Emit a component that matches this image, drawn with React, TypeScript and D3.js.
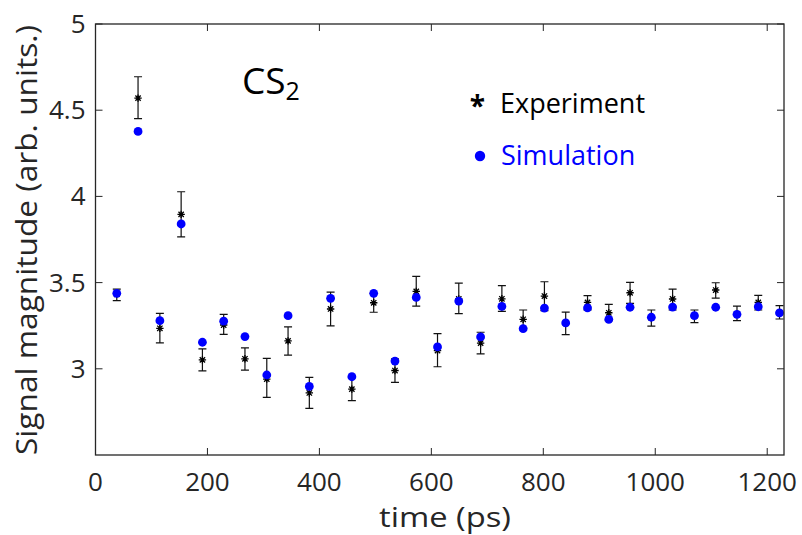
import * as d3 from 'd3'

// time delay of each measurement (ps)
const timePs = [38, 76, 115, 153, 191, 229, 267, 306, 344, 382, 420, 458, 497, 535, 573, 611,
    649, 688, 726, 764, 802, 840, 879, 917, 955, 993, 1031, 1070, 1108, 1146, 1184, 1222]

const experiment = [3.432, 4.570, 3.235, 3.896, 3.052, 3.254, 3.058, 2.940, 3.162, 2.860, 3.347,
    2.882, 3.383, 2.990, 3.449, 3.106, 3.405, 3.149, 3.406, 3.287, 3.422, 3.264, 3.385, 3.325,
    3.441, 3.295, 3.405, 3.305, 3.457, 3.318, 3.385, 3.325]

const expUpper = [3.462, 4.694, 3.322, 4.027, 3.116, 3.316, 3.121, 3.060, 3.243, 2.950, 3.445,
    2.952, 3.438, 3.058, 3.536, 3.204, 3.497, 3.212, 3.482, 3.341, 3.505, 3.329, 3.424, 3.374,
    3.501, 3.341, 3.462, 3.341, 3.499, 3.364, 3.426, 3.366]

const expLower = [3.395, 4.451, 3.150, 3.765, 2.988, 3.200, 2.992, 2.834, 3.079, 2.771, 3.249,
    2.815, 3.328, 2.921, 3.364, 3.012, 3.320, 3.087, 3.333, 3.235, 3.337, 3.198, 3.341, 3.279,
    3.380, 3.247, 3.341, 3.268, 3.410, 3.279, 3.341, 3.289]

const simulation = [3.438, 4.377, 3.279, 3.840, 3.154, 3.276, 3.187, 2.964, 3.308, 2.898, 3.409,
    2.954, 3.438, 3.045, 3.414, 3.127, 3.393, 3.185, 3.362, 3.233, 3.352, 3.266, 3.353, 3.287,
    3.357, 3.299, 3.358, 3.308, 3.357, 3.316, 3.360, 3.324]

const xTicks = [0, 200, 400, 600, 800, 1000, 1200]
const yTicks = [3, 3.5, 4, 4.5, 5]

const W = 802
const H = 535
const margin = { top: 24, right: 18, bottom: 80, left: 95.5 }
const font = '"Open Sans", "Noto Sans", sans-serif'
const axisColor = '#262626'

const App = () => {
    const x = d3.scaleLinear().domain([0, 1230]).range([margin.left, W - margin.right])
    const y = d3.scaleLinear().domain([2.5, 5]).range([H - margin.bottom, margin.top])

    const [x0, x1] = x.range()
    const [yb, yt] = y.range()
    const tickLen = 7
    const cap = 4
    const s = 3.7

    // asterisk marker (plus + cross), like matlab's '*'
    const star = (cx: number, cy: number) => {
        const d = s * 0.72
        return `M${cx - s},${cy}L${cx + s},${cy}M${cx},${cy - s}L${cx},${cy + s}` +
            `M${cx - d},${cy - d}L${cx + d},${cy + d}M${cx - d},${cy + d}L${cx + d},${cy - d}`
    }

    return (
        <svg width={W} height={H} style={{ position: 'absolute', left: 0, top: 0, background: '#fff' }}
            fontFamily={font}>

            {/* error bars */}
            <g stroke='#111' strokeWidth={1.2} fill='none'>
                {timePs.map((t, i) => (
                    <path key={i} d={`M${x(t)},${y(expUpper[i])}L${x(t)},${y(expLower[i])}` +
                        `M${x(t) - cap},${y(expUpper[i])}L${x(t) + cap},${y(expUpper[i])}` +
                        `M${x(t) - cap},${y(expLower[i])}L${x(t) + cap},${y(expLower[i])}`} />
                ))}
            </g>

            {/* experiment stars */}
            <g stroke='#000' strokeWidth={1.3}>
                {timePs.map((t, i) => (
                    <path key={i} d={star(x(t), y(experiment[i]))} />
                ))}
            </g>

            {/* simulation */}
            <g fill='#0000ff'>
                {timePs.map((t, i) => (
                    <circle key={i} cx={x(t)} cy={y(simulation[i])} r={4.4} />
                ))}
            </g>

            {/* axes box */}
            <rect x={x0} y={yt} width={x1 - x0} height={yb - yt} fill='none' stroke={axisColor} strokeWidth={1.3} />
            <g stroke={axisColor} strokeWidth={1}>
                {xTicks.map(t => (
                    <g key={t}>
                        <line x1={x(t)} x2={x(t)} y1={yb} y2={yb - tickLen} />
                        <line x1={x(t)} x2={x(t)} y1={yt} y2={yt + tickLen} />
                    </g>
                ))}
                {yTicks.map(t => (
                    <g key={t}>
                        <line x1={x0} x2={x0 + tickLen} y1={y(t)} y2={y(t)} />
                        <line x1={x1} x2={x1 - tickLen} y1={y(t)} y2={y(t)} />
                    </g>
                ))}
            </g>

            <g fill={axisColor} fontSize={26}>
                {xTicks.map(t => (
                    <text key={t} x={x(t)} y={yb + 36} textAnchor='middle'>{t}</text>
                ))}
                {yTicks.map(t => (
                    <text key={t} x={x0 - 10} y={y(t) + 9} textAnchor='end'>{t}</text>
                ))}
            </g>

            <text x={445} y={527} textAnchor='middle' fontSize={27} fill={axisColor}
                textLength={132} lengthAdjust='spacingAndGlyphs'>time (ps)</text>
            <text transform={`translate(37,${240}) rotate(-90)`} textAnchor='middle' fontSize={29}
                fill={axisColor} textLength={430} lengthAdjust='spacingAndGlyphs'>Signal magnitude (arb. units.)</text>

            {/* label */}
            <text x={242} y={94} fontSize={37} fill='#000'>
                CS<tspan fontSize={25} dy={6}>2</tspan>
            </text>

            {/* legend */}
            <text x={477.5} y={116} textAnchor='middle' fontSize={28} fontWeight='bold' fill='#000'>*</text>
            <text x={500} y={113} fontSize={27} fill='#000'>Experiment</text>
            <circle cx={480} cy={156} r={5.2} fill='#0000ff' />
            <text x={501} y={165} fontSize={27} fill='#0000ff'>Simulation</text>
        </svg>
    )
}

export default App
